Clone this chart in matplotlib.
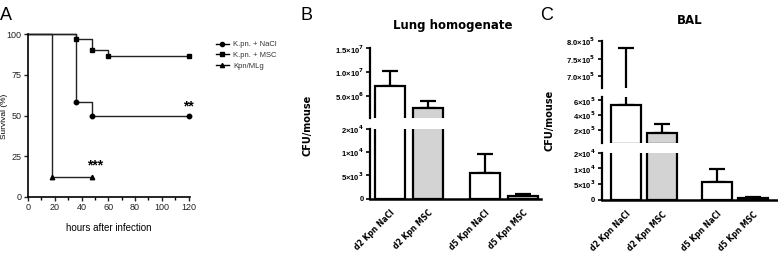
import numpy as np
import matplotlib.pyplot as plt

# ---- panel A: survival ----
t_nacl = [0, 36, 48, 120]
s_nacl = [100, 58.3, 50, 50]
t_msc = [0, 36, 48, 60, 120]
s_msc = [100, 96.7, 90, 86.7, 86.7]
t_mlg = [0, 18, 48]
s_mlg = [100, 12.5, 12.5]
surv_labels = ['K.pn. + NaCl', 'K.pn. + MSC', 'Kpn/MLg']

# ---- panels B, C: CFU bars ----
groups = ['d2 Kpn NaCl', 'd2 Kpn MSC', 'd5 Kpn NaCl', 'd5 Kpn MSC']
lung_mean = [7.1e6, 2.4e6, 5450, 640]
lung_err = [3.1e6, 1.6e6, 4200, 300]
bal_mean = [5.35e5, 1.5e5, 5700, 600]
bal_err = [2.46e5, 1.2e5, 4100, 250]
bar_colors = ['white', '#d3d3d3', 'white', '#d3d3d3']

lower_ticks = [0, 5000, 10000, 15000]
lower_labels = ['0', '5×10$^{3}$', '1×10$^{4}$', '2×10$^{4}$']
lung_up_ticks = [5e6, 1e7, 1.5e7]
lung_up_labels = ['5.0×10$^{6}$', '1.0×10$^{7}$', '1.5×10$^{7}$']
bal_mid_ticks = [2e5, 4e5, 6e5]
bal_mid_labels = ['2×10$^{5}$', '4×10$^{5}$', '6×10$^{5}$']
bal_top_ticks = [7.0e5, 7.5e5, 8.0e5]
bal_top_labels = ['7.0×10$^{5}$', '7.5×10$^{5}$', '8.0×10$^{5}$']

plt.rcParams['font.family'] = ['Liberation Sans', 'DejaVu Sans']
plt.rcParams['mathtext.default'] = 'bf'

W, H = 778, 260
fig = plt.figure(figsize=(W / 100, H / 100), dpi=100)


def rect(x0, x1, y_bot, y_top):
    # pixel coords (y from top) -> figure fraction
    return [x0 / W, 1 - y_bot / H, (x1 - x0) / W, (y_bot - y_top) / H]


# ---------------- A ----------------
ax = fig.add_axes(rect(28, 190, 197, 34))
for t, s in [(t_nacl, s_nacl), (t_msc, s_msc), (t_mlg, s_mlg)]:
    ax.step(t, s, where='post', color='#222222', lw=1.0, clip_on=False)
ax.plot(t_nacl[1:], s_nacl[1:], 'o', color='k', ms=3.2, clip_on=False)
ax.plot(t_msc[1:], s_msc[1:], 's', color='k', ms=3.2, clip_on=False)
ax.plot(t_mlg[1:], s_mlg[1:], '^', color='k', ms=3.2, clip_on=False)
h = [plt.Line2D([], [], color='k', lw=1, marker=m, ms=3) for m in 'os^']
ax.legend(h, surv_labels, loc='upper left', bbox_to_anchor=(1.12, 1.0),
          frameon=False, fontsize=5.5, handlelength=1.6, labelspacing=0.45,
          handletextpad=0.6, labelcolor='#333333')
ax.text(119.5, 51, '**', ha='center', va='bottom', fontsize=10, fontweight='bold')
ax.text(50, 15, '***', ha='center', va='bottom', fontsize=10, fontweight='bold')
ax.set_xlim(0, 121)
ax.set_ylim(0, 100)
ax.set_xticks(range(0, 121, 20))
ax.set_xticks(range(10, 121, 20), minor=True)
ax.set_yticks([0, 25, 50, 75, 100])
ax.spines[['top', 'right']].set_visible(False)
ax.spines[['left', 'bottom']].set_linewidth(1.2)
ax.tick_params(labelsize=6.5, length=3, width=1, colors='#222222', pad=1.5)
ax.tick_params(which='minor', length=2, width=1)
ax.set_xlabel('hours after infection', fontsize=7, labelpad=8)
fig.text(5 / W, 1 - 116 / H, 'Survival (%)', rotation=90, ha='center', va='center',
         fontsize=6)
fig.text(0 / W, 1 - 20 / H, 'A', fontsize=13)

pos = np.array([0, 1, 2.5, 3.5])


def seg_axes(r, xlim, ylim, ticks, labels, bottom, means, errs, width):
    a = fig.add_axes(r)
    means = np.array(means)
    errs = np.array(errs)
    keep = means > ylim[0]
    cols = [c for c, k in zip(bar_colors, keep) if k]
    a.bar(pos[keep], means[keep], width=width, color=cols, edgecolor='k', lw=1.6, zorder=2)
    ek = (means + errs) > ylim[0]
    a.errorbar(pos[ek], means[ek], yerr=[np.zeros(ek.sum()), errs[ek]], fmt='none',
               ecolor='k', elinewidth=1.6, capsize=5.5, capthick=1.6, zorder=1)
    a.set_xlim(*xlim)
    a.set_ylim(*ylim)
    a.set_yticks(ticks)
    a.set_yticklabels(labels, fontsize=5.5, fontweight='bold')
    a.tick_params(axis='y', length=3, width=1.2, pad=1.5)
    a.spines[['top', 'right']].set_visible(False)
    a.spines['left'].set_linewidth(1.6)
    if bottom:
        a.spines['bottom'].set_linewidth(1.8)
        a.set_xticks(pos)
        a.set_xticklabels(groups, rotation=45, ha='right', rotation_mode='anchor',
                          fontsize=5.5, fontweight='bold', family='DejaVu Sans')
        a.tick_params(axis='x', length=0, pad=7)
    else:
        a.spines['bottom'].set_visible(False)
        a.set_xticks([])
    return a


# ---------------- B ----------------
bx_lim = (-0.52, 3.98)
seg_axes(rect(370, 541, 198.7, 128.7), bx_lim, (0, 15000), lower_ticks, lower_labels,
         True, lung_mean, lung_err, 0.78)
seg_axes(rect(370, 541, 118.3, 48.3), bx_lim, (2.6e5, 1.5e7), lung_up_ticks,
         lung_up_labels, False, lung_mean, lung_err, 0.78)
fig.text(453 / W, 1 - 25 / H, 'Lung homogenate', ha='center', va='center',
         fontsize=8.5, fontweight='bold', family='DejaVu Sans')
fig.text(307 / W, 1 - 125 / H, 'CFU/mouse', rotation=90, ha='center', va='center',
         fontsize=7, fontweight='bold', family='DejaVu Sans')
fig.text(300 / W, 1 - 20 / H, 'B', fontsize=13)

# ---------------- C ----------------
cx_lim = (-0.66, 4.16)
seg_axes(rect(601.7, 777.5, 200, 152.7), cx_lim, (0, 15000), lower_ticks, lower_labels,
         True, bal_mean, bal_err, 0.82)
seg_axes(rect(601.7, 777.5, 143.3, 96.7), cx_lim, (1.2e4, 6.5e5), bal_mid_ticks,
         bal_mid_labels, False, bal_mean, bal_err, 0.82)
seg_axes(rect(601.7, 777.5, 88.3, 41), cx_lim, (6.65e5, 8.0e5), bal_top_ticks,
         bal_top_labels, False, bal_mean, bal_err, 0.82)
fig.text(690 / W, 1 - 20 / H, 'BAL', ha='center', va='center',
         fontsize=8.5, fontweight='bold', family='DejaVu Sans')
fig.text(549 / W, 1 - 120 / H, 'CFU/mouse', rotation=90, ha='center', va='center',
         fontsize=7, fontweight='bold', family='DejaVu Sans')
fig.text(540 / W, 1 - 20 / H, 'C', fontsize=13)

fig.savefig('out.png', dpi=100)
